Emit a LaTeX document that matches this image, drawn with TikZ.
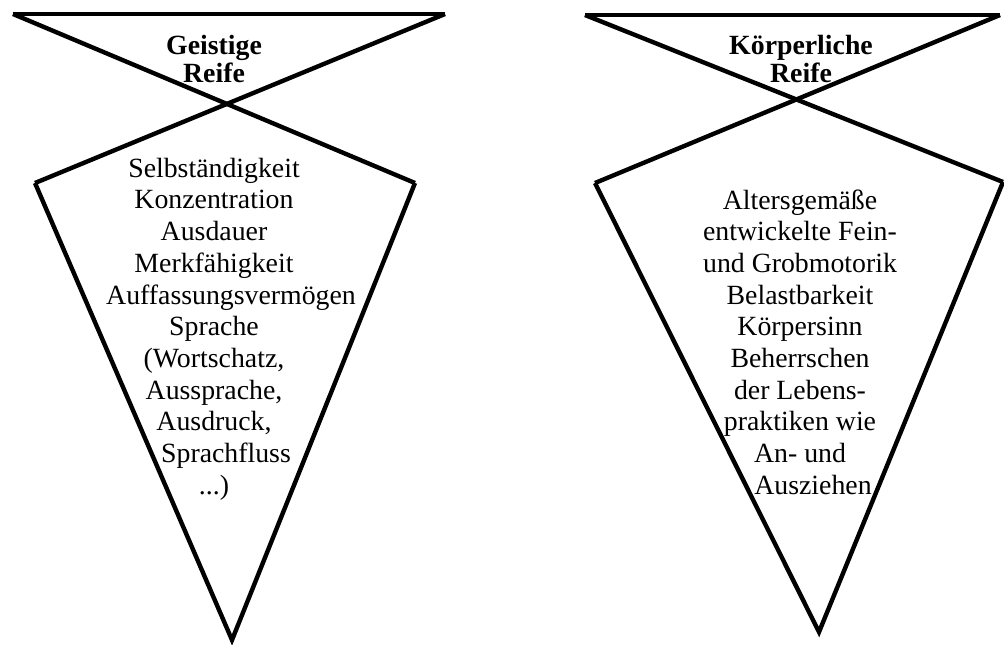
\documentclass[tikz,border=0pt]{standalone}
\usepackage{fontspec}
\setmainfont{Liberation Serif}
\usepackage{tikz}
\usetikzlibrary{positioning}
\tikzset{
  funnel/.style={line width=2.2pt,line join=miter},
  head/.style={align=center,inner sep=0pt,font=\fontsize{13.9}{14}\selectfont\bfseries},
  body/.style={align=center,inner sep=0pt,font=\fontsize{13.9}{15.85}\selectfont},
}

\begin{document}
\begin{tikzpicture}[x=0.5pt,y=-0.5pt]
\useasboundingbox (0,0) rectangle (1004,644);
% left funnel
\coordinate (gTL) at (13,14);
\coordinate (gTR) at (445,14);
\coordinate (gL) at (35,183);
\coordinate (gR) at (415,183);
\coordinate (gB) at (232,640);
\draw[funnel] (gTL) -- (gTR);
\draw[funnel] (gTL) -- (gR);
\draw[funnel] (gTR) -- (gL);
\draw[funnel] (gL) -- (gB) -- (gR);
\node[head] (geistig) at (214,59) {Geistige\\Reife};
\node[body] (gtext) at (214,329) {Selbständigkeit\\Konzentration\\Ausdauer\\Merkfähigkeit\\
  \hspace*{17pt}Auffassungsvermögen\\Sprache\\(Wortschatz,\\Aussprache,\\Ausdruck,\\
  \hspace*{12pt}Sprachfluss\\...)};
% right funnel
\coordinate (kTL) at (585,15);
\coordinate (kTR) at (1000,15);
\coordinate (kL) at (595,183);
\coordinate (kR) at (1003,182);
\coordinate (kB) at (819,632);
\draw[funnel] (kTL) -- (kTR);
\draw[funnel] (kTL) -- (kR);
\draw[funnel] (kTR) -- (kL);
\draw[funnel] (kL) -- (kB) -- (kR);
\node[head] (koerper) at (801,59) {Körperliche\\Reife};
\node[body] (ktext) at (800,342) {Altersgemäße\\entwickelte Fein-\\und Grobmotorik\\Belastbarkeit\\
  Körpersinn\\Beherrschen\\der Lebens-\\praktiken wie\\An- und\\\hspace*{13pt}Ausziehen};
\end{tikzpicture}
\end{document}
